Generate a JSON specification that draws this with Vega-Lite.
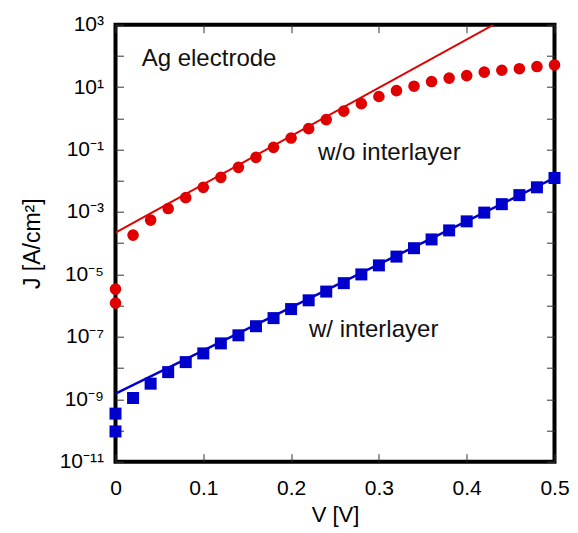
{
  "$schema": "https://vega.github.io/schema/vega-lite/v6.json",
  "width": 439,
  "height": 437,
  "autosize": "none",
  "padding": {"left": 115.5, "top": 24.7, "right": 23.5, "bottom": 71.3},
  "background": "white",
  "config": {
    "font": "Liberation Sans",
    "view": {"stroke": "black", "strokeWidth": 4},
    "axis": {
      "grid": false,
      "domain": false,
      "tickColor": "#333333",
      "tickWidth": 1,
      "tickSize": -8,
      "labelFont": "Liberation Sans",
      "labelFontSize": 21,
      "labelColor": "black",
      "labelFlush": false,
      "labelOverlap": false,
      "titleFont": "Liberation Sans",
      "titleFontSize": 22,
      "titleFontWeight": "normal",
      "titleColor": "black"
    }
  },
  "datasets": {
    "red": [
      {"V": 0, "J": 3.39e-6}, {"V": 0, "J": 1.2e-6},
      {"V": 0.02, "J": 1.82e-4}, {"V": 0.04, "J": 5.5e-4}, {"V": 0.06, "J": 1.29e-3},
      {"V": 0.08, "J": 2.88e-3}, {"V": 0.10, "J": 6.17e-3}, {"V": 0.12, "J": 1.29e-2},
      {"V": 0.14, "J": 2.69e-2}, {"V": 0.16, "J": 5.62e-2}, {"V": 0.18, "J": 0.1175},
      {"V": 0.20, "J": 0.234}, {"V": 0.22, "J": 0.468}, {"V": 0.24, "J": 0.912},
      {"V": 0.26, "J": 1.70}, {"V": 0.28, "J": 2.95}, {"V": 0.30, "J": 5.01},
      {"V": 0.32, "J": 7.76}, {"V": 0.34, "J": 10.7}, {"V": 0.36, "J": 15.1},
      {"V": 0.38, "J": 19.5}, {"V": 0.40, "J": 23.4}, {"V": 0.42, "J": 30.2},
      {"V": 0.44, "J": 34.7}, {"V": 0.46, "J": 38.9}, {"V": 0.48, "J": 45.7},
      {"V": 0.50, "J": 51.3}
    ],
    "blue": [
      {"V": 0, "J": 3.47e-10}, {"V": 0, "J": 9.33e-11},
      {"V": 0.02, "J": 1.10e-9}, {"V": 0.04, "J": 3.16e-9}, {"V": 0.06, "J": 7.41e-9},
      {"V": 0.08, "J": 1.55e-8}, {"V": 0.10, "J": 2.95e-8}, {"V": 0.12, "J": 6.17e-8},
      {"V": 0.14, "J": 1.12e-7}, {"V": 0.16, "J": 2.19e-7}, {"V": 0.18, "J": 3.98e-7},
      {"V": 0.20, "J": 7.76e-7}, {"V": 0.22, "J": 1.48e-6}, {"V": 0.24, "J": 2.82e-6},
      {"V": 0.26, "J": 5.25e-6}, {"V": 0.28, "J": 1.0e-5}, {"V": 0.30, "J": 1.95e-5},
      {"V": 0.32, "J": 3.72e-5}, {"V": 0.34, "J": 6.92e-5}, {"V": 0.36, "J": 1.32e-4},
      {"V": 0.38, "J": 2.57e-4}, {"V": 0.40, "J": 5.01e-4}, {"V": 0.42, "J": 9.55e-4},
      {"V": 0.44, "J": 1.78e-3}, {"V": 0.46, "J": 3.47e-3}, {"V": 0.48, "J": 6.17e-3},
      {"V": 0.50, "J": 1.23e-2}
    ],
    "redfit": [{"V": 0, "J": 2.19e-4}, {"V": 0.4307, "J": 1000}],
    "bluefit": [{"V": 0, "J": 1.51e-9}, {"V": 0.5, "J": 1.23e-2}],
    "labels": [
      {"text": "Ag electrode", "V": 0.0298, "J": 81},
      {"text": "w/o interlayer", "V": 0.2306, "J": 0.078},
      {"text": "w/ interlayer", "V": 0.2204, "J": 1.62e-7}
    ]
  },
  "layer": [
    {
      "data": {"name": "redfit"},
      "mark": {"type": "line", "color": "#e00000", "strokeWidth": 2, "clip": true},
      "encoding": {
        "x": {
          "field": "V", "type": "quantitative",
          "scale": {"domain": [0, 0.5], "nice": false, "zero": false},
          "axis": {
            "orient": "bottom",
            "values": [0, 0.1, 0.2, 0.3, 0.4, 0.5],
            "labelExpr": "datum.value == 0 ? '0' : format(datum.value, '.1f')",
            "labelPadding": 24,
            "title": "V [V]",
            "titlePadding": 6
          }
        },
        "y": {
          "field": "J", "type": "quantitative",
          "scale": {"type": "log", "domain": [1e-11, 1000], "nice": false},
          "axis": {
            "orient": "left",
            "values": [1e-11, 1e-10, 1e-9, 1e-8, 1e-7, 1e-6, 1e-5, 1e-4, 1e-3, 1e-2, 1e-1, 1, 10, 100, 1000],
            "labelExpr": "['10⁻¹¹','','10⁻⁹','','10⁻⁷','','10⁻⁵','','10⁻³','','10⁻¹','','10¹','','10³'][round(log(datum.value)/LN10)+11]",
            "labelPadding": 20,
            "title": "J [A/cm²]",
            "titleFontSize": 23,
            "titlePadding": 15
          }
        }
      }
    },
    {
      "data": {"name": "bluefit"},
      "mark": {"type": "line", "color": "#0000cc", "strokeWidth": 2.5, "clip": true},
      "encoding": {
        "x": {
          "field": "V", "type": "quantitative",
          "scale": {"domain": [0, 0.5], "nice": false, "zero": false},
          "axis": {
            "orient": "top",
            "values": [0, 0.1, 0.2, 0.3, 0.4, 0.5],
            "labels": false,
            "title": null
          }
        },
        "y": {
          "field": "J", "type": "quantitative",
          "scale": {"type": "log", "domain": [1e-11, 1000], "nice": false},
          "axis": {
            "orient": "right",
            "values": [1e-11, 1e-10, 1e-9, 1e-8, 1e-7, 1e-6, 1e-5, 1e-4, 1e-3, 1e-2, 1e-1, 1, 10, 100, 1000],
            "labels": false,
            "title": null
          }
        }
      }
    },
    {
      "data": {"name": "red"},
      "mark": {"type": "point", "shape": "circle", "filled": true, "color": "#e00000", "opacity": 1, "size": 135},
      "encoding": {
        "x": {"field": "V", "type": "quantitative", "axis": null, "scale": {"domain": [0, 0.5], "nice": false, "zero": false}},
        "y": {"field": "J", "type": "quantitative", "axis": null, "scale": {"type": "log", "domain": [1e-11, 1000], "nice": false}}
      }
    },
    {
      "data": {"name": "blue"},
      "mark": {"type": "point", "shape": "square", "filled": true, "color": "#0000cc", "opacity": 1, "size": 144},
      "encoding": {
        "x": {"field": "V", "type": "quantitative", "axis": null, "scale": {"domain": [0, 0.5], "nice": false, "zero": false}},
        "y": {"field": "J", "type": "quantitative", "axis": null, "scale": {"type": "log", "domain": [1e-11, 1000], "nice": false}}
      }
    },
    {
      "data": {"name": "labels"},
      "mark": {"type": "text", "align": "left", "baseline": "middle", "fontSize": 24, "font": "Liberation Sans", "color": "#111111"},
      "encoding": {
        "x": {"field": "V", "type": "quantitative", "axis": null, "scale": {"domain": [0, 0.5], "nice": false, "zero": false}},
        "y": {"field": "J", "type": "quantitative", "axis": null, "scale": {"type": "log", "domain": [1e-11, 1000], "nice": false}},
        "text": {"field": "text"}
      }
    }
  ],
  "resolve": {"axis": {"x": "independent", "y": "independent"}}
}
